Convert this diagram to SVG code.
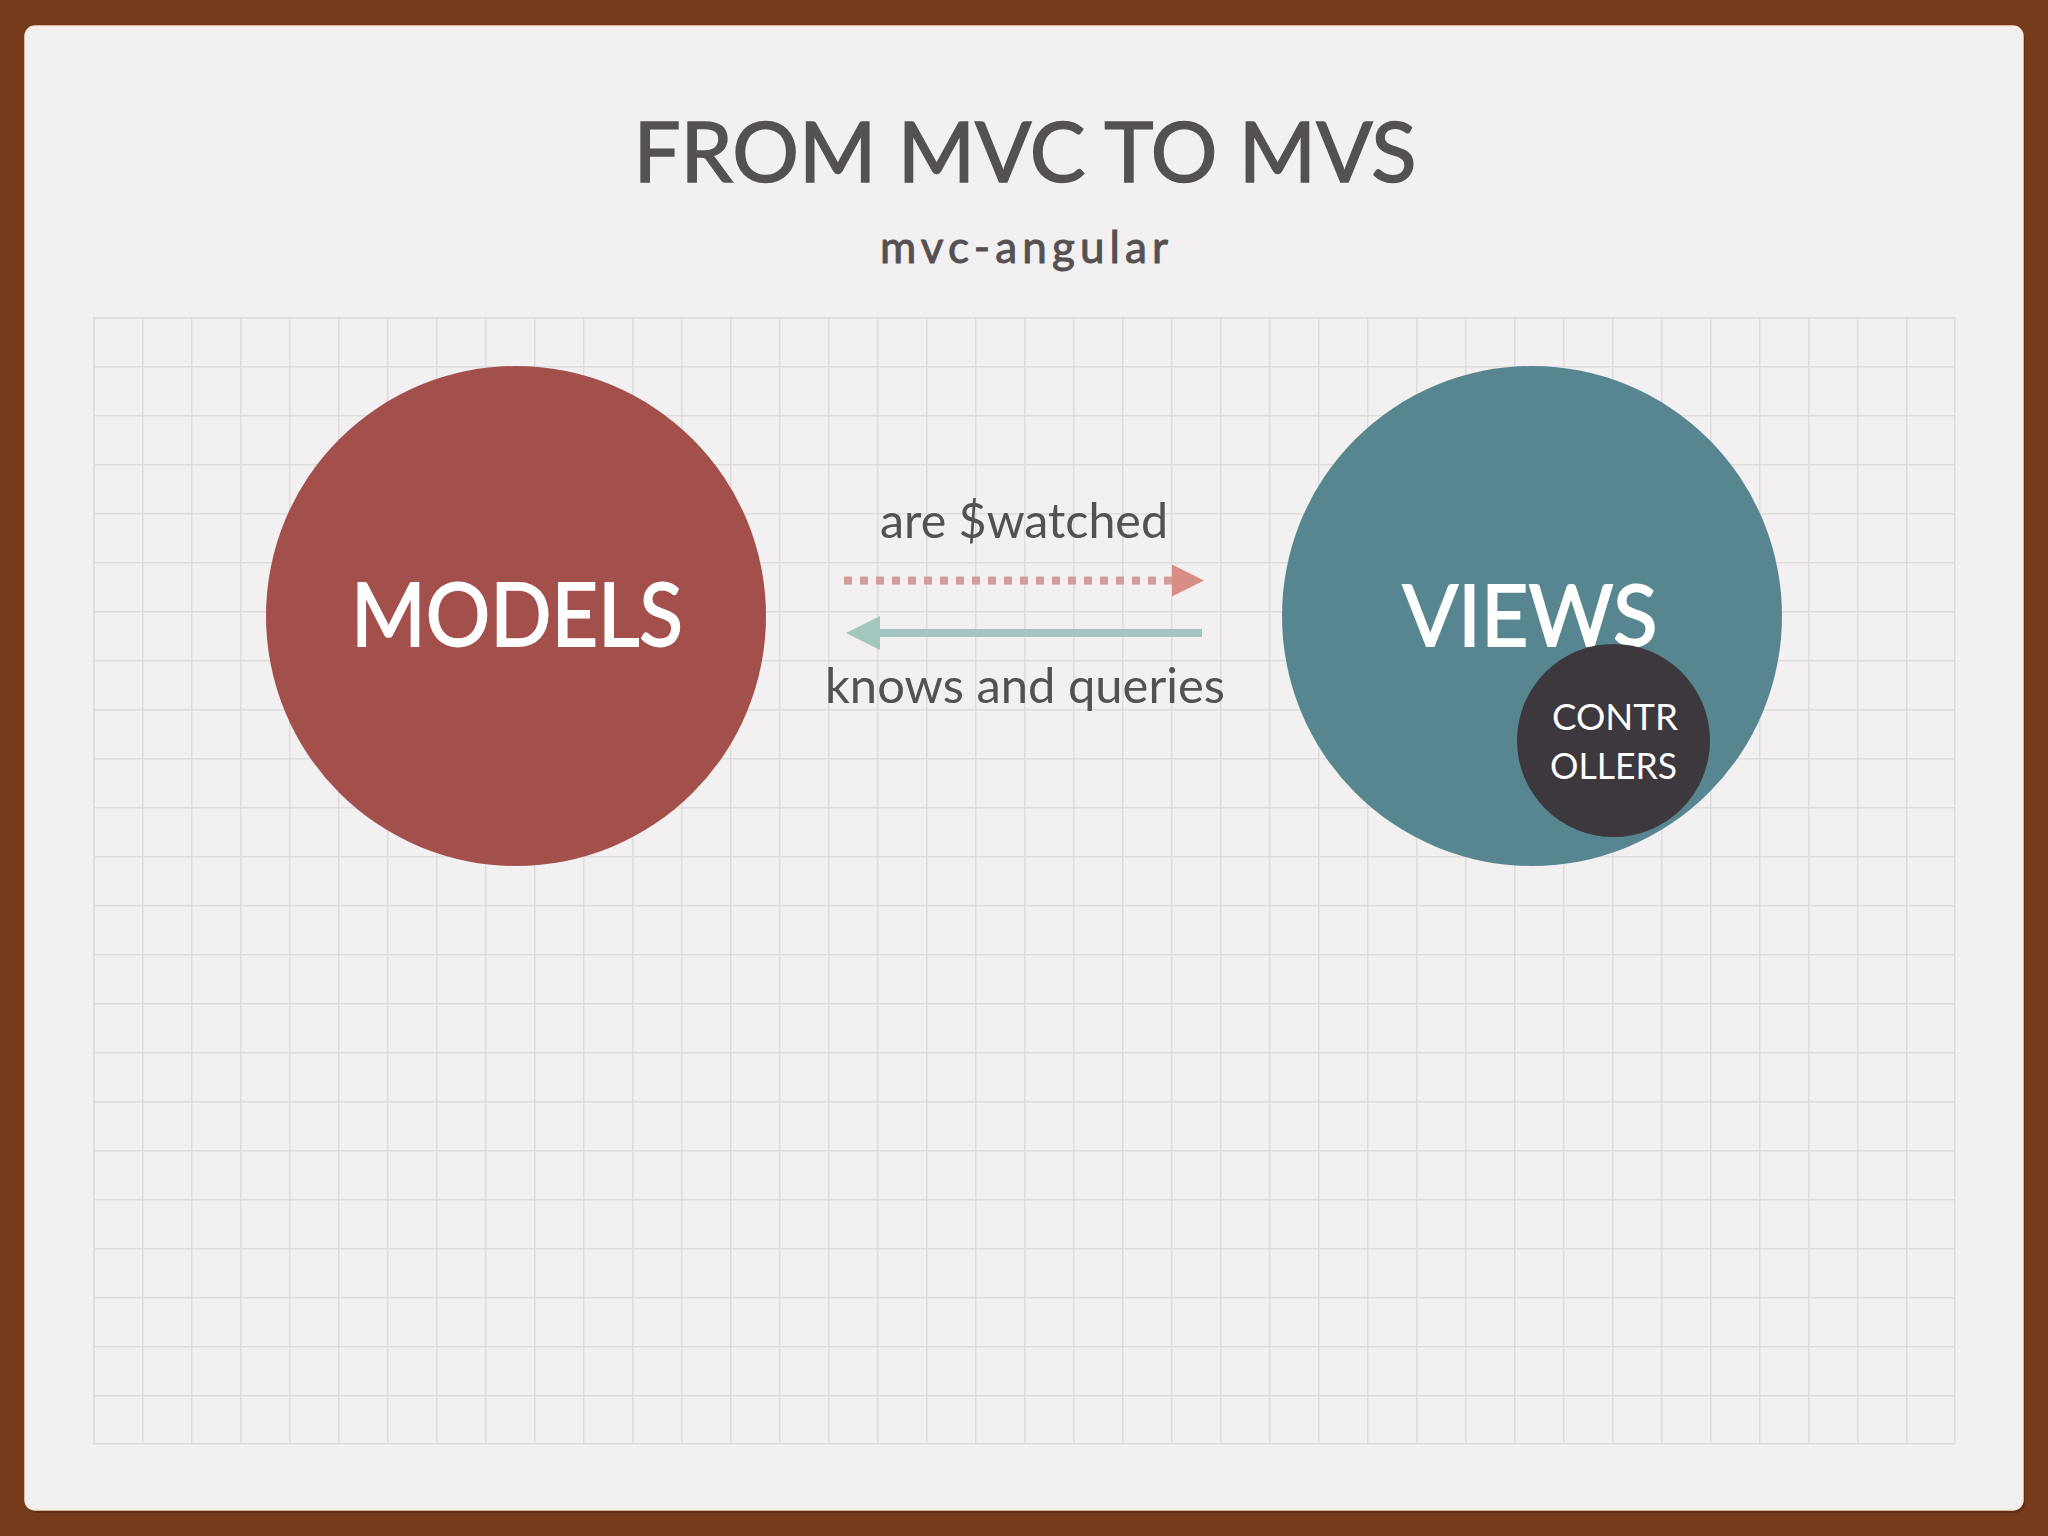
<svg xmlns="http://www.w3.org/2000/svg" width="2048" height="1536" viewBox="0 0 2048 1536">
  <style>
    .title { font-family: Lato, "Noto Sans", "DejaVu Sans", sans-serif; fill: #555152; stroke: #555152; }
    .label { font-family: Lato, "Noto Sans", "DejaVu Sans", sans-serif; fill: #ffffff; stroke: #ffffff; stroke-width: 1.8; }
    .small-label { font-family: Lato, "Noto Sans", "DejaVu Sans", sans-serif; fill: #ffffff; font-size: 36px; }
    .edge-label { font-family: Lato, "Noto Sans", "DejaVu Sans", sans-serif; fill: #555152; font-size: 48px; }
  </style>
  <defs>
    <pattern id="grid" x="93" y="317" width="49" height="49" patternUnits="userSpaceOnUse">
      <path d="M0 0.75 H49 M0.75 0 V49" fill="none" stroke="#dedcdc" stroke-width="1.5"/>
    </pattern>
    <marker id="headWatch" viewBox="0 0 32 32" refX="0" refY="16" markerWidth="32" markerHeight="32" markerUnits="userSpaceOnUse" orient="auto">
      <path d="M0 0 L32 16 L0 32 Z" fill="#d98e85"/>
    </marker>
    <marker id="headQuery" viewBox="0 0 34 34" refX="0" refY="17" markerWidth="34" markerHeight="34" markerUnits="userSpaceOnUse" orient="auto">
      <path d="M0 0 L34 17 L0 34 Z" fill="#a3c6bf"/>
    </marker>
  </defs>

  <!-- background -->
  <rect x="0" y="0" width="2048" height="1536" fill="#753a1b"/>
  <rect x="27" y="29" width="1998" height="1484" rx="11" fill="#4a220e" opacity="0.5"/>
  <rect x="25" y="26" width="1998" height="1484" rx="10" fill="#f2f0f0" stroke="#f7e6d6" stroke-width="1.5"/>

  <!-- grid -->
  <rect x="93" y="317" width="1862" height="1127" fill="url(#grid)"/>
  <rect x="93.75" y="317.75" width="1861" height="1126" fill="none" stroke="#dedcdc" stroke-width="1.5"/>

  <!-- title -->
  <g id="title">
    <text class="title" x="1025" y="182" font-size="84" stroke-width="1.6" text-anchor="middle" textLength="783" lengthAdjust="spacingAndGlyphs">FROM MVC TO MVS</text>
    <text class="title" x="1024" y="263" font-size="44" stroke-width="1" text-anchor="middle" textLength="288" lengthAdjust="spacing">mvc-angular</text>
  </g>

  <!-- connectors -->
  <g id="connectors">
    <line x1="844" y1="580.5" x2="1172" y2="580.5" stroke="#cf9f98" stroke-width="8" stroke-dasharray="8 8" marker-end="url(#headWatch)"/>
    <line x1="1202" y1="633" x2="880" y2="633" stroke="#a3c6bf" stroke-width="8" marker-end="url(#headQuery)"/>
    <text class="edge-label" x="1024" y="538" text-anchor="middle" textLength="288" lengthAdjust="spacingAndGlyphs">are $watched</text>
    <text class="edge-label" x="1025" y="703" text-anchor="middle" textLength="400" lengthAdjust="spacingAndGlyphs">knows and queries</text>
  </g>

  <!-- models -->
  <g id="models">
    <circle cx="516" cy="616" r="250" fill="#a34f4b"/>
    <text class="label" x="517" y="646" font-size="88" text-anchor="middle" textLength="332" lengthAdjust="spacingAndGlyphs">MODELS</text>
  </g>

  <!-- views -->
  <g id="views">
    <circle cx="1532" cy="616" r="250" fill="#578690"/>
    <text class="label" x="1530" y="646" font-size="86" text-anchor="middle" textLength="255" lengthAdjust="spacingAndGlyphs">VIEWS</text>
  </g>

  <!-- controllers -->
  <g id="controllers">
    <circle cx="1613.5" cy="740.5" r="96.5" fill="#3c383d"/>
    <text class="small-label" x="1615" y="730" text-anchor="middle" textLength="126" lengthAdjust="spacingAndGlyphs">CONTR</text>
    <text class="small-label" x="1613.5" y="779" text-anchor="middle" textLength="127" lengthAdjust="spacingAndGlyphs">OLLERS</text>
  </g>
</svg>
